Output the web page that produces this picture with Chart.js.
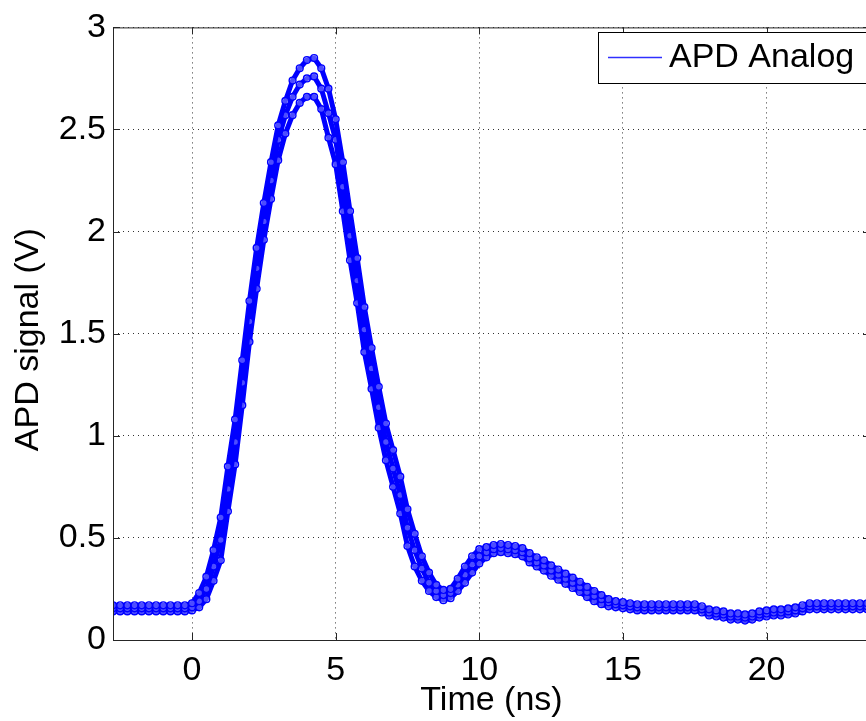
<!DOCTYPE html>
<html>
<head>
<meta charset="utf-8">
<script src="https://cdn.jsdelivr.net/npm/chart.js@4/dist/chart.umd.min.js"></script>
<style>
  html, body { margin: 0; padding: 0; background: #fff; overflow: hidden; }
  #wrap { width: 890px; height: 721px; }
</style>
</head>
<body>
<div id="wrap"><canvas id="apd" width="890" height="721"></canvas></div>
<script>
// ── 데이터 (Time ns / APD signal V) ─────────────────
const timeNs = [
  -2.75, -2.5, -2.25, -2, -1.75, -1.5, -1.25, -1, -0.75, -0.5, -0.25,
  0, 0.25, 0.5, 0.75, 1, 1.25, 1.5, 1.75, 2, 2.25, 2.5, 2.75,
  3, 3.25, 3.5, 3.75, 4, 4.25, 4.5, 4.75, 5, 5.25, 5.5, 5.75,
  6, 6.25, 6.5, 6.75, 7, 7.25, 7.5, 7.75, 8, 8.25, 8.5, 8.75,
  9, 9.25, 9.5, 9.75, 10, 10.25, 10.5, 10.75, 11, 11.25, 11.5, 11.75,
  12, 12.25, 12.5, 12.75, 13, 13.25, 13.5, 13.75, 14, 14.25, 14.5, 14.75,
  15, 15.25, 15.5, 15.75, 16, 16.25, 16.5, 16.75, 17, 17.25, 17.5, 17.75,
  18, 18.25, 18.5, 18.75, 19, 19.25, 19.5, 19.75, 20, 20.25, 20.5, 20.75,
  21, 21.25, 21.5, 21.75, 22, 22.25, 22.5, 22.75, 23, 23.25, 23.5, 23.75,
  24
];

// upper shot
const traceHigh = [
  0.17, 0.17, 0.17, 0.17, 0.17, 0.17, 0.17, 0.17, 0.17, 0.17, 0.17,
  0.18, 0.23, 0.31, 0.44,   0.60, 0.85, 1.08, 1.37,   1.66, 1.92, 2.14, 2.34,
  2.52, 2.64, 2.74, 2.80,   2.84, 2.85, 2.80, 2.70,   2.55, 2.34, 2.10, 1.87,
  1.63, 1.43, 1.24, 1.06,   0.93, 0.80, 0.64, 0.52,   0.41, 0.33, 0.27, 0.245,
  0.25, 0.30, 0.36, 0.41,   0.445, 0.455, 0.465, 0.47, 0.465, 0.46, 0.45, 0.425,
  0.405, 0.39, 0.365, 0.345, 0.325, 0.305, 0.285, 0.26, 0.24, 0.22, 0.20, 0.19,
  0.185, 0.18, 0.175, 0.175, 0.175, 0.175, 0.175, 0.175, 0.175, 0.175, 0.175, 0.165,
  0.15, 0.145, 0.14, 0.13,  0.13, 0.125, 0.13, 0.14,  0.145, 0.15, 0.15, 0.155,
  0.16, 0.17, 0.18, 0.18,   0.18, 0.18, 0.18, 0.18,   0.18, 0.18, 0.18, 0.18,
  0.18
];

// typical shot
const traceMid = [
  0.155, 0.155, 0.155, 0.155, 0.155, 0.155, 0.155, 0.155, 0.155, 0.155, 0.155,
  0.16, 0.19, 0.25, 0.36,   0.49, 0.74, 0.97, 1.26,   1.56, 1.82, 2.05, 2.25,
  2.45, 2.57, 2.66, 2.72,   2.75, 2.76, 2.70, 2.58,   2.45, 2.22, 1.98, 1.76,
  1.52, 1.33, 1.14, 0.97,   0.84, 0.71, 0.55, 0.44,   0.35, 0.28, 0.24, 0.22,
  0.23, 0.27, 0.32, 0.37,   0.41, 0.43, 0.445, 0.45,  0.445, 0.44, 0.43, 0.40,
  0.38, 0.365, 0.34, 0.32,  0.30, 0.28, 0.26, 0.235,  0.215, 0.20, 0.185, 0.175,
  0.17, 0.165, 0.16, 0.16,  0.16, 0.16, 0.16, 0.16,   0.16, 0.16, 0.16, 0.15,
  0.135, 0.13, 0.125, 0.115, 0.115, 0.11, 0.115, 0.125, 0.13, 0.135, 0.135, 0.14,
  0.145, 0.155, 0.165, 0.165, 0.165, 0.165, 0.165, 0.165, 0.165, 0.165, 0.165, 0.165,
  0.165
];

// lower shot
const traceLow = [
  0.14, 0.14, 0.14, 0.14, 0.14, 0.14, 0.14, 0.14, 0.14, 0.14, 0.14,
  0.145, 0.16, 0.20, 0.29,  0.39, 0.63, 0.86, 1.15,   1.46, 1.72, 1.96, 2.16,
  2.35, 2.48, 2.57, 2.63,   2.66, 2.66, 2.60, 2.46,   2.33, 2.10, 1.86, 1.65,
  1.41, 1.23, 1.04, 0.88,   0.75, 0.62, 0.46, 0.36,   0.29, 0.24, 0.21, 0.195,
  0.205, 0.24, 0.28, 0.33,  0.375, 0.405, 0.425, 0.43, 0.425, 0.42, 0.41, 0.38,
  0.36, 0.34, 0.315, 0.295, 0.275, 0.255, 0.235, 0.21, 0.19, 0.175, 0.165, 0.16,
  0.155, 0.15, 0.145, 0.145, 0.145, 0.145, 0.145, 0.145, 0.145, 0.145, 0.145, 0.135,
  0.12, 0.115, 0.11, 0.10,  0.10, 0.095, 0.10, 0.11,  0.115, 0.12, 0.12, 0.125,
  0.13, 0.14, 0.15, 0.15,   0.15, 0.15, 0.15, 0.15,   0.15, 0.15, 0.15, 0.15,
  0.15
];

const xTicks = [0, 5, 10, 15, 20];
const yTicks = [0, 0.5, 1, 1.5, 2, 2.5, 3];
const seriesLabel = "APD Analog";
const xTitle = "Time (ns)";
const yTitle = "APD signal (V)";

// ── 스타일 ─────────────────────────────────────────
const FONT = '"Liberation Sans", Arial, Helvetica, sans-serif';
const AXIS = "#262626";
const BLUE = "#0000ff";

Chart.defaults.font.family = FONT;
Chart.defaults.font.size = 34;
Chart.defaults.color = "#000";

const traces = [traceHigh, traceMid, traceLow];

const datasets = traces.map(tr => ({
  label: seriesLabel,
  data: timeNs.map((t, i) => ({ x: t, y: tr[i] })),
  borderColor: BLUE,
  borderWidth: 5,
  pointRadius: 3.4,
  pointBorderWidth: 1.4,
  pointBorderColor: BLUE,
  pointBackgroundColor: "rgba(255,255,255,0.3)",
  tension: 0,
}));

// MATLAB style frame: box, inward ticks, legend, axis titles
const matlabFrame = {
  id: "matlabFrame",
  afterDraw(chart) {
    const { ctx, chartArea: a, scales } = chart;
    ctx.save();
    ctx.strokeStyle = AXIS;
    ctx.lineWidth = 1;
    ctx.strokeRect(a.left + 0.5, a.top + 0.5, a.right - a.left, a.bottom - a.top);

    ctx.beginPath();
    xTicks.forEach(v => {
      const px = Math.round(scales.x.getPixelForValue(v)) + 0.5;
      ctx.moveTo(px, a.bottom); ctx.lineTo(px, a.bottom - 7);
      ctx.moveTo(px, a.top);    ctx.lineTo(px, a.top + 7);
    });
    yTicks.forEach(v => {
      const py = Math.round(scales.y.getPixelForValue(v)) + 0.5;
      ctx.moveTo(a.left, py);  ctx.lineTo(a.left + 7, py);
      ctx.moveTo(a.right, py); ctx.lineTo(a.right - 7, py);
    });
    ctx.stroke();

    // legend
    const lx = 598.5, ly = 32.5, lw = 280, lh = 51;
    ctx.fillStyle = "#fff";
    ctx.fillRect(lx, ly, lw, lh);
    ctx.strokeStyle = "#000";
    ctx.strokeRect(lx, ly, lw, lh);
    ctx.strokeStyle = "#3030ff";
    ctx.lineWidth = 1.5;
    ctx.beginPath();
    ctx.moveTo(608, 57.5); ctx.lineTo(662, 57.5);
    ctx.stroke();
    ctx.fillStyle = "#000";
    ctx.font = `34px ${FONT}`;
    ctx.textAlign = "left";
    ctx.textBaseline = "middle";
    ctx.fillText(seriesLabel, 669, 58);

    // axis titles
    ctx.textAlign = "center";
    ctx.fillText(xTitle, (a.left + a.right) / 2, 701);
    ctx.translate(29, (a.top + a.bottom) / 2 + 6);
    ctx.rotate(-Math.PI / 2);
    ctx.fillText(yTitle, 0, 0);
    ctx.restore();
  },
};

new Chart(document.getElementById("apd"), {
  type: "line",
  data: { datasets },
  options: {
    responsive: false,
    animation: false,
    devicePixelRatio: 1,
    layout: { padding: { left: 0, top: 23, right: 20, bottom: 0 } },
    plugins: { legend: { display: false }, tooltip: { enabled: false } },
    scales: {
      x: {
        type: "linear",
        min: -2.75,
        max: 23.6,
        afterBuildTicks: s => { s.ticks = xTicks.map(v => ({ value: v })); },
        afterFit: s => { s.height = 81; },
        grid: { color: "#333", lineWidth: 1, drawTicks: false },
        border: { display: false, dash: [1, 4] },
        ticks: { padding: 10, maxRotation: 0, callback: v => String(v) },
      },
      y: {
        min: 0,
        max: 3,
        afterBuildTicks: s => { s.ticks = yTicks.map(v => ({ value: v })); },
        afterFit: s => { s.width = 113; },
        grid: { color: "#333", lineWidth: 1, drawTicks: false },
        border: { display: false, dash: [1, 4] },
        ticks: { padding: 7, callback: v => String(v) },
      },
    },
  },
  plugins: [matlabFrame],
});
</script>
</body>
</html>
